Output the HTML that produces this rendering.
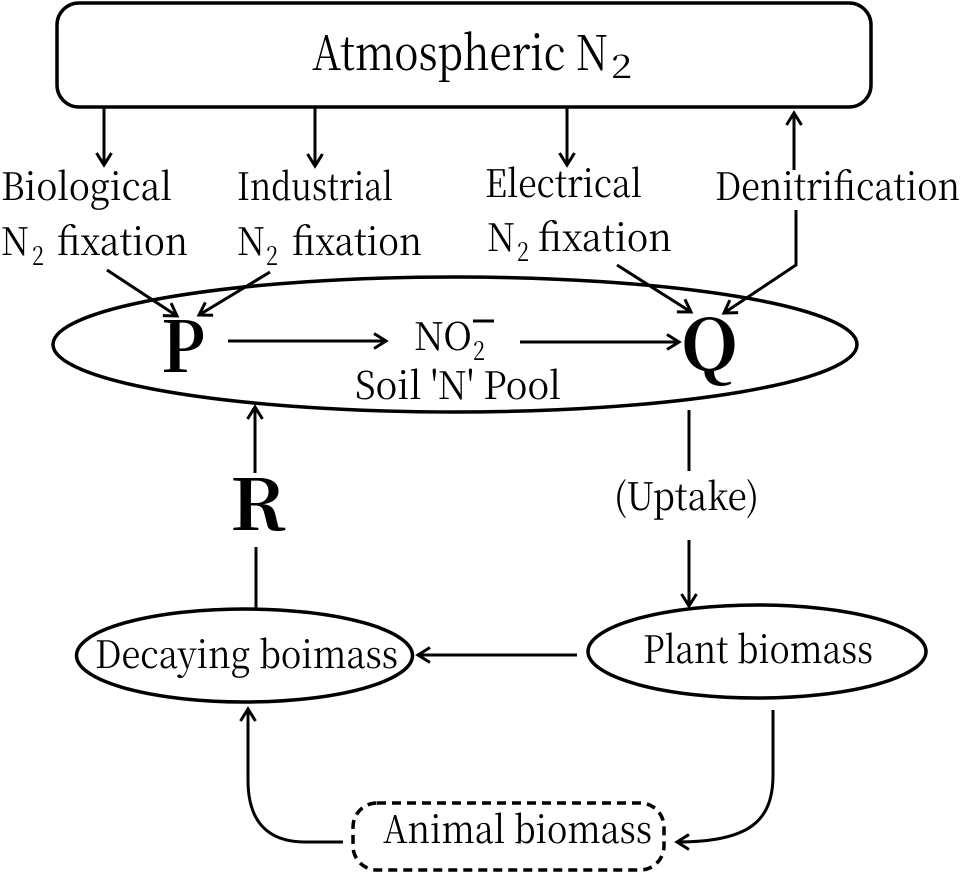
<!DOCTYPE html>
<html>
<head>
<meta charset="utf-8">
<style>
  html, body { margin: 0; padding: 0; background: #fff; }
  svg { display: block; }
  text { font-family: "Noto Serif CJK SC", "Liberation Serif", "DejaVu Serif", serif; fill: #000; }
  .t { font-size: 38px; }
  .s { font-size: 26px; }
  .b { font-size: 70px; font-weight: bold; }
</style>
</head>
<body>
<svg width="963" height="873" viewBox="0 0 963 873" xmlns="http://www.w3.org/2000/svg">
  <defs>
    <marker id="a" viewBox="-16 -10 20 20" markerWidth="20" markerHeight="20" refX="0" refY="0" orient="auto" markerUnits="userSpaceOnUse">
      <path d="M-12,-7.5 L0,0 L-12,7.5" fill="none" stroke="#000" stroke-width="3" stroke-linejoin="miter"/>
    </marker>
  </defs>

  <!-- Atmospheric N2 box -->
  <rect x="57" y="3" width="814" height="104" rx="22" ry="22" fill="none" stroke="#000" stroke-width="3.5"/>
  <text x="312" y="70" font-size="48" textLength="296" lengthAdjust="spacingAndGlyphs">Atmospheric N</text>
  <text x="611" y="78" font-size="33" textLength="21" lengthAdjust="spacingAndGlyphs">2</text>

  <!-- arrows from/to box -->
  <g fill="none" stroke="#000" stroke-width="3">
    <path d="M104,108 V165" marker-end="url(#a)"/>
    <path d="M315,108 V166" marker-end="url(#a)"/>
    <path d="M567,108 V165" marker-end="url(#a)"/>
    <path d="M794,170 V113" marker-end="url(#a)"/>
    <path d="M796,210 V265 L724,313" marker-end="url(#a)"/>
    <path d="M617,265 L691,312" marker-end="url(#a)"/>
    <path d="M107,270 L177,316" marker-end="url(#a)"/>
    <path d="M270,272 L199,315" marker-end="url(#a)"/>
    <path d="M228,341 H386" marker-end="url(#a)"/>
    <path d="M520,342 H679" marker-end="url(#a)"/>
    <path d="M255,473 V407" marker-end="url(#a)"/>
    <path d="M256,547 V609"/>
    <path d="M689,410 V471"/>
    <path d="M689,540 V606" marker-end="url(#a)"/>
    <path d="M577,655 H418" marker-end="url(#a)"/>
    <path d="M773,710 V775 C773,822 748,842 677,842" marker-end="url(#a)"/>
    <path d="M343,842 H305 C268,842 248,822 248,780 V709" marker-end="url(#a)"/>
  </g>

  <!-- labels top -->
  <text class="t" x="1" y="200" textLength="171" lengthAdjust="spacingAndGlyphs">Biological</text>
  <text class="t" x="1" y="255" textLength="28" lengthAdjust="spacingAndGlyphs">N</text>
  <text class="s" x="32" y="265" textLength="12" lengthAdjust="spacingAndGlyphs">2</text>
  <text class="t" x="57" y="255" textLength="131" lengthAdjust="spacingAndGlyphs">fixation</text>

  <text class="t" x="237" y="200" textLength="156" lengthAdjust="spacingAndGlyphs">Industrial</text>
  <text class="t" x="237" y="255" textLength="28" lengthAdjust="spacingAndGlyphs">N</text>
  <text class="s" x="266" y="265" textLength="12" lengthAdjust="spacingAndGlyphs">2</text>
  <text class="t" x="292" y="255" textLength="130" lengthAdjust="spacingAndGlyphs">fixation</text>

  <text class="t" x="485" y="197" textLength="157" lengthAdjust="spacingAndGlyphs">Electrical</text>
  <text class="t" x="487" y="251" textLength="28" lengthAdjust="spacingAndGlyphs">N</text>
  <text class="s" x="517" y="261" textLength="12" lengthAdjust="spacingAndGlyphs">2</text>
  <text class="t" x="538" y="251" textLength="134" lengthAdjust="spacingAndGlyphs">fixation</text>

  <text class="t" x="715" y="200" textLength="245" lengthAdjust="spacingAndGlyphs">Denitrification</text>

  <!-- Soil N pool ellipse -->
  <ellipse cx="455" cy="344.5" rx="402" ry="67.5" fill="none" stroke="#000" stroke-width="3.5"/>
  <text class="b" x="161" y="372" textLength="44" lengthAdjust="spacingAndGlyphs">P</text>
  <text class="b" x="681" y="370" textLength="57" lengthAdjust="spacingAndGlyphs">Q</text>
  <text class="t" x="414" y="350" textLength="58" lengthAdjust="spacingAndGlyphs">NO</text>
  <text class="s" x="473" y="360" textLength="12" lengthAdjust="spacingAndGlyphs">2</text>
  <line x1="473" y1="321" x2="494" y2="321" stroke="#000" stroke-width="3"/>
  <text class="t" x="355" y="399" textLength="206" lengthAdjust="spacingAndGlyphs">Soil 'N' Pool</text>

  <!-- R -->
  <text class="b" x="230" y="530" textLength="56" lengthAdjust="spacingAndGlyphs">R</text>

  <!-- Uptake -->
  <text class="t" x="614" y="510" textLength="145" lengthAdjust="spacingAndGlyphs">(Uptake)</text>

  <!-- Decaying biomass -->
  <ellipse cx="244.5" cy="655.5" rx="168" ry="46.5" fill="none" stroke="#000" stroke-width="3.5"/>
  <text class="t" x="95" y="668" textLength="303" lengthAdjust="spacingAndGlyphs">Decaying boimass</text>

  <!-- Plant biomass -->
  <ellipse cx="757" cy="651.5" rx="169" ry="46.5" fill="none" stroke="#000" stroke-width="3.5"/>
  <text class="t" x="643" y="663" textLength="230" lengthAdjust="spacingAndGlyphs">Plant biomass</text>

  <!-- Animal biomass dashed box -->
  <rect x="353" y="803" width="311" height="67" rx="24" ry="24" fill="none" stroke="#000" stroke-width="3.5" stroke-dasharray="9 6"/>
  <text class="t" x="383" y="843" textLength="269" lengthAdjust="spacingAndGlyphs">Animal biomass</text>
</svg>
</body>
</html>
